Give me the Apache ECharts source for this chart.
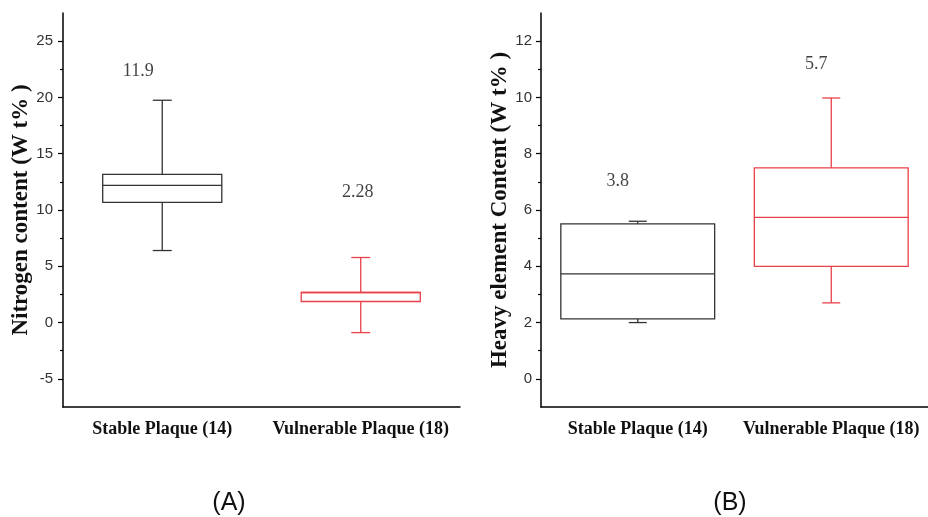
<!DOCTYPE html>
<html>
<head>
<meta charset="utf-8">
<script src="https://cdn.jsdelivr.net/npm/echarts@6/dist/echarts.min.js"></script>
<style>
  html, body { margin: 0; padding: 0; background: #fff; }
  #chart { width: 928px; height: 517px; }
</style>
</head>
<body>
<div id="chart"></div>
<script>
// ---------- data ----------
const categories = ['Stable Plaque (14)', 'Vulnerable Plaque (18)'];
// [min, Q1, median, Q3, max]
const nitrogenBoxes = [
  [6.4, 10.68, 12.19, 13.17, 19.75],
  [-0.89, 1.87, 2.67, 2.67, 5.78]
];
const heavyBoxes = [
  [2.0, 2.13, 3.73, 5.51, 5.6],
  [2.7, 4.0, 5.74, 7.5, 9.98]
];
const nitrogenValueLabels = ['11.9', '2.28'];
const nitrogenValueLabelY = [22.3, 11.6];
const heavyValueLabels = ['3.8', '5.7'];
const heavyValueLabelY = [7.03, 11.19];

const nitrogenTicks = [-5, 0, 5, 10, 15, 20, 25];
const nitrogenMinorTicks = [-2.5, 2.5, 7.5, 12.5, 17.5, 22.5];
const heavyTicks = [0, 2, 4, 6, 8, 10, 12];
const heavyMinorTicks = [1, 3, 5, 7, 9, 11];

const nitrogenTitle = 'Nitrogen content (W t% )';
const heavyTitle = 'Heavy element Content (W t% )';
const panelLabels = ['(A)', '(B)'];

// ---------- style ----------
const boxColors = ['#333333', '#e8404a'];
const serif = '"Liberation Serif", "Times New Roman", serif';
const sans = '"Liberation Sans", Arial, sans-serif';

function boxRenderer(boxRatio, capPx) {
  return function (params, api) {
    const cat = api.value(0);
    const pMin = api.coord([cat, api.value(1)]);
    const pQ1 = api.coord([cat, api.value(2)]);
    const pMed = api.coord([cat, api.value(3)]);
    const pQ3 = api.coord([cat, api.value(4)]);
    const pMax = api.coord([cat, api.value(5)]);
    const band = api.size([1, 0])[0];
    const half = band * boxRatio / 2;
    const cx = pMed[0];
    const color = boxColors[params.dataIndex];
    const st = { stroke: color, lineWidth: 1.3, fill: null };
    const ch = capPx / 2;
    return {
      type: 'group',
      children: [
        { type: 'rect', shape: { x: cx - half, y: pQ3[1], width: 2 * half, height: pQ1[1] - pQ3[1] }, style: { stroke: color, lineWidth: 1.3, fill: 'rgba(0,0,0,0)' } },
        { type: 'line', shape: { x1: cx - half, y1: pMed[1], x2: cx + half, y2: pMed[1] }, style: st },
        { type: 'line', shape: { x1: cx, y1: pQ3[1], x2: cx, y2: pMax[1] }, style: st },
        { type: 'line', shape: { x1: cx, y1: pQ1[1], x2: cx, y2: pMin[1] }, style: st },
        { type: 'line', shape: { x1: cx - ch, y1: pMax[1], x2: cx + ch, y2: pMax[1] }, style: st },
        { type: 'line', shape: { x1: cx - ch, y1: pMin[1], x2: cx + ch, y2: pMin[1] }, style: st }
      ]
    };
  };
}

function boxData(boxes) {
  return boxes.map((b, i) => [i].concat(b));
}

const axisLineStyle = { color: '#000', width: 1.5 };

function makeXAxis(gridIndex) {
  return {
    type: 'category', gridIndex, data: categories, boundaryGap: true,
    axisLine: { onZero: false, lineStyle: axisLineStyle },
    axisTick: { alignWithLabel: true, length: 5, lineStyle: { color: '#000', width: 1.2 } },
    axisLabel: { interval: 0, margin: 13, fontFamily: serif, fontWeight: 'bold', fontSize: 18, color: '#111' },
    splitLine: { show: false }
  };
}

function makeYAxes(gridIndex, min, max, ticks, minor, name, labelMargin, nameGap) {
  return [
    {
      type: 'value', gridIndex, min, max, position: 'left',
      name, nameLocation: 'middle', nameGap, nameRotate: 90,
      nameTextStyle: { fontFamily: serif, fontWeight: 'bold', fontSize: 23, color: '#111' },
      axisLine: { show: true, onZero: false, lineStyle: axisLineStyle },
      axisTick: { show: true, length: 5, customValues: ticks, lineStyle: { color: '#000', width: 1.2 } },
      axisLabel: { customValues: ticks, margin: labelMargin, fontFamily: sans, fontSize: 15, color: '#333' },
      splitLine: { show: false }
    },
    {
      type: 'value', gridIndex, min, max, position: 'left',
      axisLine: { show: false, onZero: false },
      axisTick: { show: true, length: 3, customValues: minor, lineStyle: { color: '#000', width: 1.2 } },
      axisLabel: { show: false },
      splitLine: { show: false }
    }
  ];
}

const chart = echarts.init(document.getElementById('chart'), null, { renderer: 'canvas' });

const option = {
  animation: false,
  backgroundColor: '#fff',
  grid: [
    { left: 63, width: 397, top: 13, bottom: 110, outerBoundsMode: 'none', containLabel: false },
    { left: 541, width: 387, top: 13, bottom: 110, outerBoundsMode: 'none', containLabel: false }
  ],
  xAxis: [makeXAxis(0), makeXAxis(1)],
  yAxis: [
    ...makeYAxes(0, -7.5, 27.5, nitrogenTicks, nitrogenMinorTicks, nitrogenTitle, 10, 29),
    ...makeYAxes(1, -1, 13, heavyTicks, heavyMinorTicks, heavyTitle, 9, 27)
  ],
  series: [
    {
      type: 'custom', xAxisIndex: 0, yAxisIndex: 0,
      renderItem: boxRenderer(0.6, 19),
      encode: { x: 0, y: [1, 2, 3, 4, 5] },
      data: boxData(nitrogenBoxes)
    },
    {
      type: 'custom', xAxisIndex: 1, yAxisIndex: 2,
      renderItem: boxRenderer(0.795, 18),
      encode: { x: 0, y: [1, 2, 3, 4, 5] },
      data: boxData(heavyBoxes)
    },
    {
      type: 'scatter', xAxisIndex: 0, yAxisIndex: 0, symbolSize: 0,
      data: nitrogenValueLabels.map((t, i) => ({
        value: [i, nitrogenValueLabelY[i]],
        label: { offset: [i === 0 ? -24 : -3, 0] }
      })),
      label: {
        show: true, position: 'inside',
        formatter: p => nitrogenValueLabels[p.dataIndex],
        fontFamily: serif, fontSize: 18, color: '#111'
      }
    },
    {
      type: 'scatter', xAxisIndex: 1, yAxisIndex: 2, symbolSize: 0,
      data: heavyValueLabels.map((t, i) => ({
        value: [i, heavyValueLabelY[i]],
        label: { offset: [i === 0 ? -20 : -15, 0] }
      })),
      label: {
        show: true, position: 'inside',
        formatter: p => heavyValueLabels[p.dataIndex],
        fontFamily: serif, fontSize: 18, color: '#111'
      }
    }
  ],
  graphic: [
    { type: 'text', x: 229, y: 503, style: { text: panelLabels[0], font: '25px ' + sans, fill: '#111', textAlign: 'center', textVerticalAlign: 'middle' } },
    { type: 'text', x: 730, y: 503, style: { text: panelLabels[1], font: '25px ' + sans, fill: '#111', textAlign: 'center', textVerticalAlign: 'middle' } }
  ]
};

chart.setOption(option);
</script>
</body>
</html>
